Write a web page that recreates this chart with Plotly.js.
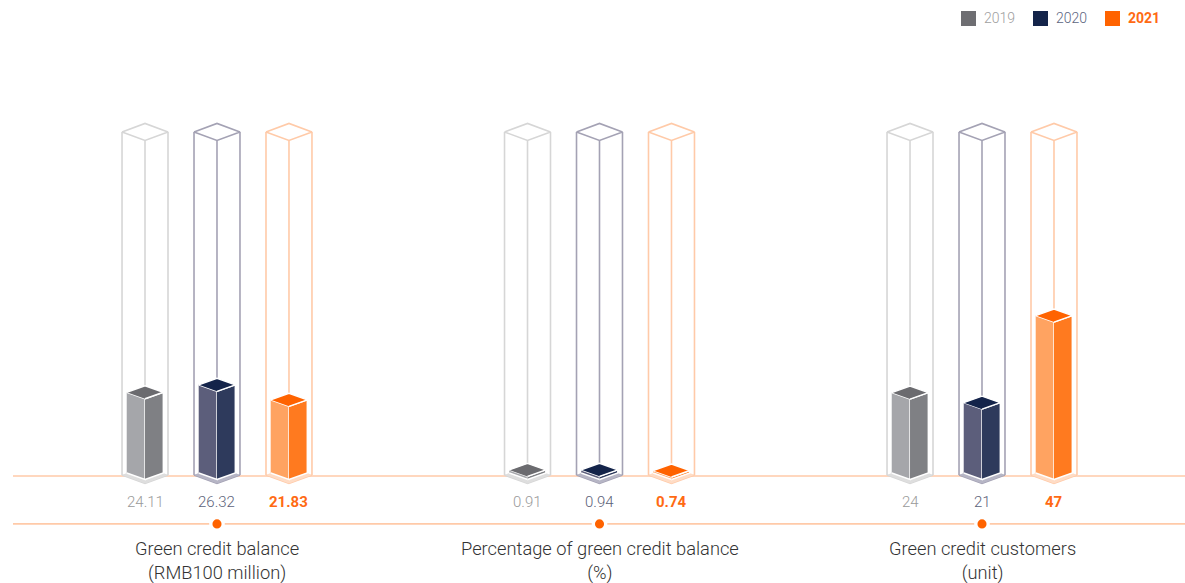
<!DOCTYPE html>
<html>
<head>
<meta charset="utf-8">
<script src="https://cdn.plot.ly/plotly-3.0.1.min.js"></script>
<style>
  html, body { margin: 0; padding: 0; background: #ffffff; }
  #chart { width: 1185px; height: 583px; }
</style>
</head>
<body>
<div id="chart"></div>
<script>
// Green credit indicators, 2019-2021
const categories = [
  "Green credit balance<br>(RMB100 million)",
  "Percentage of green credit balance<br>(%)",
  "Green credit customers<br>(unit)"
];
const years = ["2019", "2020", "2021"];
const values2019 = [24.11, 0.91, 24];
const values2020 = [26.32, 0.94, 21];
const values2021 = [21.83, 0.74, 47];
const valueLabels2019 = ["24.11", "0.91", "24"];
const valueLabels2020 = ["26.32", "0.94", "21"];
const valueLabels2021 = ["21.83", "0.74", "47"];

const series = [values2019, values2020, values2021];
const seriesLabels = [valueLabels2019, valueLabels2020, valueLabels2021];

// Per-year styling: left face, right face, top face, frame, base chevron, label
const styles = [
  { left: "#a5a6aa", right: "#7f8084", top: "#6b6b6f", frame: "#d6d6d6", base: "#dedede",
    legend: "#6e6e72", text: "#9a9a9a", legendText: "#a0a0a0", bold: false },
  { left: "#5c5e7b", right: "#2e3a5c", top: "#14244a", frame: "#a4a2b4", base: "#b6b5c5",
    legend: "#14244a", text: "#5c6279", legendText: "#5c6480", bold: false },
  { left: "#ffa361", right: "#ff7a1f", top: "#ff6300", frame: "#ffcaa8", base: "#ffdcc5",
    legend: "#ff6300", text: "#ff6a13", legendText: "#ff6a13", bold: true }
];

// Axis scales
const X_RANGE = [-0.5673, 2.5307];
const Y_RANGE = [-32.84, 141.19];
const BAR_OFFSET = 0.1882;   // spacing between years inside a group
const FRAME_HALF_W = 0.0601; // outer prism half width
const BAR_HALF_W = 0.0478;   // solid prism half width
const FRAME_DEPTH = 2.54;    // half height of the outer diamond
const BAR_DEPTH = 1.94;      // half height of the solid diamond
const FRAME_TOP = 101.8;
const FRAME_BASE = -0.6;
const BASELINE_Y = -0.9;
const AXIS_LINE_Y = -15.2;

const traces = [];
const noHover = { hoverinfo: "skip", showlegend: false, mode: "lines" };

function poly(xs, ys, fill, lineColor, lineWidth) {
  traces.push(Object.assign({
    type: "scatter", x: xs, y: ys, fill: "toself", fillcolor: fill,
    line: { color: lineColor, width: lineWidth }
  }, noHover));
}

categories.forEach((cat, g) => {
  years.forEach((yr, k) => {
    const st = styles[k];
    const v = series[k][g];
    const cx = g + (k - 1) * BAR_OFFSET;
    const W = FRAME_HALF_W, D = FRAME_DEPTH, H = FRAME_TOP, B = FRAME_BASE;

    // outer glass frame
    traces.push(Object.assign({
      type: "scatter",
      x: [cx - W, cx - W, null,
          cx - W, cx, cx + W, cx, cx - W, null,
          cx + W, cx + W, null,
          cx, cx, null,
          cx - W, cx, cx + W],
      y: [B, H, null,
          H, H + D, H, H - D, H, null,
          H, B, null,
          H - D, B - D, null,
          B, B - D, B],
      line: { color: st.frame, width: 1.6 },
      connectgaps: false
    }, noHover));

    // light chevron under the solid prism
    const w = BAR_HALF_W, d = BAR_DEPTH;
    poly([cx - W, cx, cx + W, cx + w, cx, cx - w],
         [B, B - D, B, 0, -d, 0], st.base, "rgba(0,0,0,0)", 0);

    // solid prism: left face, right face, top
    poly([cx - w, cx, cx, cx - w], [v, v - d, -d, 0], st.left, "#ffffff", 1.4);
    poly([cx, cx + w, cx + w, cx], [v - d, v, 0, -d], st.right, "#ffffff", 1.4);
    poly([cx - w, cx, cx + w, cx], [v, v + d, v, v - d], st.top, "#ffffff", 1.4);
  });
});

// dots on the category line
traces.push({
  type: "scatter", mode: "markers", x: categories.map((c, i) => i),
  y: categories.map(() => AXIS_LINE_Y),
  marker: { size: 12.4, color: "#ff6300", line: { color: "#ffffff", width: 3.3 } },
  hoverinfo: "skip", showlegend: false, cliponaxis: false
});

const annotations = [];
categories.forEach((cat, g) => {
  years.forEach((yr, k) => {
    const st = styles[k];
    annotations.push({
      x: g + (k - 1) * BAR_OFFSET, xref: "x", y: 1 - 502 / 583, yref: "paper",
      text: seriesLabels[k][g], showarrow: false, xanchor: "center", yanchor: "middle",
      font: { family: "Roboto, sans-serif", size: 15, color: st.text, weight: st.bold ? 700 : 300 }
    });
  });
  annotations.push({
    x: g, xref: "x", y: 1 - 561 / 583, yref: "paper",
    text: cat, showarrow: false, xanchor: "center", yanchor: "middle",
    font: { family: "Roboto, sans-serif", size: 18.3, color: "#333333", weight: 300 }
  });
});

// baselines
const shapes = [
  { type: "line", xref: "paper", yref: "y", x0: 13 / 1185, x1: 1, y0: BASELINE_Y, y1: BASELINE_Y,
    line: { color: "#ffcaa8", width: 1.6 }, layer: "below" },
  { type: "line", xref: "paper", yref: "y", x0: 13 / 1185, x1: 1, y0: AXIS_LINE_Y, y1: AXIS_LINE_Y,
    line: { color: "#ffcaa8", width: 1.6 }, layer: "below" }
];

// legend (top right)
const legendX = [961, 1033, 1105];
years.forEach((yr, k) => {
  const st = styles[k];
  shapes.push({
    type: "rect", xref: "paper", yref: "paper",
    x0: legendX[k] / 1185, x1: (legendX[k] + 15) / 1185,
    y0: 1 - 26 / 583, y1: 1 - 11 / 583,
    fillcolor: st.legend, line: { width: 0 }
  });
  annotations.push({
    x: (legendX[k] + 21) / 1185, xref: "paper", y: 1 - 18.5 / 583, yref: "paper",
    text: yr, showarrow: false, xanchor: "left", yanchor: "middle",
    font: { family: "Roboto, sans-serif", size: 14, color: st.legendText, weight: st.bold ? 700 : 300 }
  });
});

const layout = {
  width: 1185, height: 583,
  margin: { l: 0, r: 0, t: 0, b: 0, pad: 0 },
  paper_bgcolor: "#ffffff", plot_bgcolor: "#ffffff",
  xaxis: { range: X_RANGE, visible: false, fixedrange: true },
  yaxis: { range: Y_RANGE, visible: false, fixedrange: true },
  showlegend: false,
  shapes: shapes,
  annotations: annotations,
  hovermode: false
};

Plotly.newPlot("chart", traces, layout, { displayModeBar: false, staticPlot: true });
</script>
</body>
</html>
